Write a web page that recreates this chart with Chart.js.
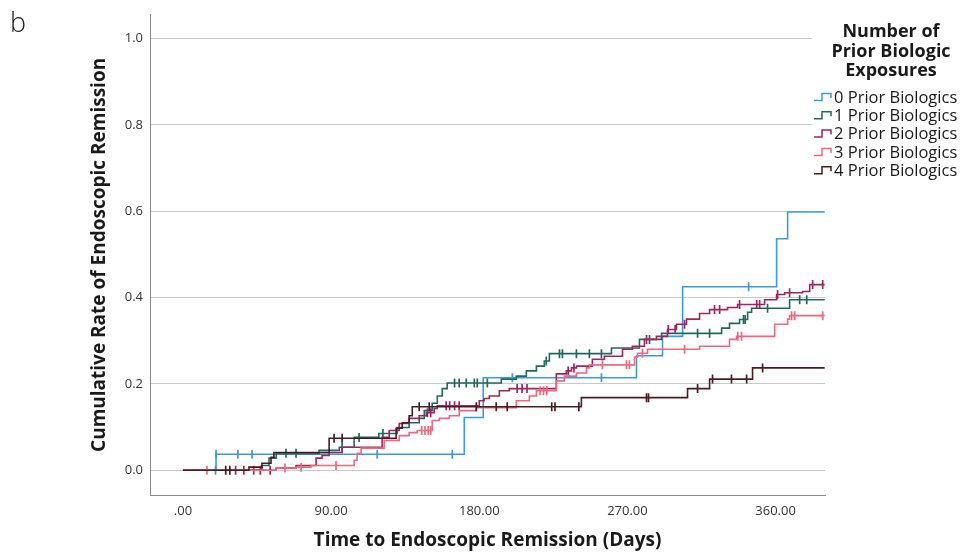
<!DOCTYPE html>
<html>
<head>
<meta charset="utf-8">
<script src="https://cdn.jsdelivr.net/npm/chart.js@4.4.1/dist/chart.umd.min.js"></script>
<style>
  html, body { margin: 0; padding: 0; background: #ffffff; }
  #wrap { width: 972px; height: 555px; position: relative; }
</style>
</head>
<body>
<div id="wrap"><canvas id="c" width="972" height="555"></canvas></div>
<script>
// ---------- DATA ----------
const groups = ['0 Prior Biologics', '1 Prior Biologics', '2 Prior Biologics', '3 Prior Biologics', '4 Prior Biologics'];
const legendTitle = ['Number of', 'Prior Biologic', 'Exposures'];
const xTickValues = [0, 90, 180, 270, 360];
const xTickLabels = ['.00', '90.00', '180.00', '270.00', '360.00'];
const yTickValues = [0, 0.2, 0.4, 0.6, 0.8, 1.0];
const yTickLabels = ['0.0', '0.2', '0.4', '0.6', '0.8', '1.0'];

// step times (days) and cumulative rate after each time
const times0 = [0, 20.1, 170.9, 182.4, 275.5, 291.3, 303.5, 360.6, 367.3, 389.8];
const rates0 = [0, 0.037, 0.122, 0.214, 0.265, 0.31, 0.425, 0.536, 0.598, 0.598];
const censor0 = [19.8, 20.1, 33.4, 42.0, 118.0, 163.6, 200.1, 254.2, 343.6];

const times1 = [0, 48.0, 52.3, 56.6, 82.7, 95.0, 104.0, 119.0, 130.1, 137.4, 143.5, 146.6, 151.4, 154.5, 157.5, 160.5, 193.4, 202.5, 208.6, 214.7, 219.5, 222.6, 260.3, 277.3, 290.7, 327.2, 332.0, 338.1, 343.0, 345.4, 368.5, 389.8];
const rates1 = [0, 0.011, 0.028, 0.039, 0.046, 0.053, 0.076, 0.085, 0.099, 0.11, 0.12, 0.138, 0.155, 0.172, 0.189, 0.202, 0.211, 0.218, 0.23, 0.241, 0.253, 0.27, 0.283, 0.303, 0.317, 0.329, 0.34, 0.349, 0.366, 0.375, 0.395, 0.395];
const censor1 = [62.6, 68.7, 96.7, 107.0, 121.5, 165.0, 167.8, 172.1, 177.0, 178.8, 184.9, 220.7, 228.7, 230.5, 239.0, 246.9, 254.2, 283.4, 312.6, 319.9, 340.5, 341.5, 355.1, 374.6, 378.9];

const times2 = [0, 56.6, 68.7, 80.9, 84.5, 88.8, 96.7, 121.0, 125.3, 131.4, 137.4, 143.5, 147.8, 152.6, 154.5, 180.0, 183.0, 186.1, 192.2, 198.2, 226.8, 232.9, 236.0, 239.0, 248.7, 256.0, 267.0, 273.0, 280.3, 287.6, 294.3, 299.8, 305.9, 313.8, 319.9, 330.8, 336.9, 353.3, 360.6, 365.5, 376.4, 380.7, 389.8];
const rates2 = [0, 0.005, 0.011, 0.028, 0.034, 0.041, 0.053, 0.076, 0.092, 0.108, 0.12, 0.126, 0.133, 0.143, 0.149, 0.161, 0.166, 0.172, 0.184, 0.189, 0.223, 0.23, 0.237, 0.241, 0.257, 0.264, 0.28, 0.287, 0.303, 0.31, 0.326, 0.338, 0.35, 0.363, 0.372, 0.377, 0.384, 0.395, 0.407, 0.411, 0.414, 0.43, 0.43];
const censor2 = [32.0, 37.0, 43.0, 47.0, 53.0, 148.5, 150.5, 159.9, 162.0, 165.0, 167.8, 203.0, 206.0, 209.0, 234.0, 237.5, 281.6, 294.8, 299.0, 304.7, 322.9, 326.0, 338.1, 348.5, 350.3, 361.2, 368.5, 382.5, 388.6];

const times3 = [0, 56.6, 68.7, 77.8, 104.0, 105.8, 108.2, 122.2, 131.4, 137.4, 142.3, 151.4, 155.7, 161.8, 167.8, 178.2, 202.5, 210.4, 214.7, 226.8, 231.7, 239.0, 245.1, 246.9, 274.3, 276.1, 282.2, 313.8, 332.0, 336.3, 359.4, 367.3, 368.5, 389.8];
const rates3 = [0, 0.005, 0.007, 0.011, 0.023, 0.039, 0.051, 0.069, 0.08, 0.087, 0.092, 0.115, 0.12, 0.126, 0.138, 0.145, 0.161, 0.172, 0.184, 0.207, 0.218, 0.225, 0.237, 0.244, 0.262, 0.271, 0.28, 0.287, 0.303, 0.31, 0.338, 0.35, 0.358, 0.358];
const censor3 = [14.6, 62.0, 71.8, 93.0, 145.0, 147.0, 149.0, 150.5, 217.0, 219.0, 221.0, 254.8, 269.4, 271.2, 279.1, 304.7, 337.0, 339.3, 369.7, 371.6, 388.6];

const times4 = [0, 40.1, 48.0, 53.5, 55.3, 88.8, 129.5, 133.2, 137.4, 139.3, 242.0, 306.5, 319.9, 346.0, 389.8];
const rates4 = [0, 0.007, 0.016, 0.03, 0.041, 0.074, 0.097, 0.11, 0.126, 0.147, 0.168, 0.189, 0.211, 0.237, 0.237];
const censor4 = [26.0, 28.5, 91.8, 96.7, 143.5, 149.6, 178.2, 190.3, 197.0, 224.0, 226.0, 240.5, 281.6, 282.8, 312.6, 321.7, 333.2, 342.4, 352.1];

const colors = ['#3b9bd8', '#1f6a5c', '#a02460', '#f0687e', '#4a1c22'];

// ---------- BUILD ----------
const allTimes = [times0, times1, times2, times3, times4];
const allRates = [rates0, rates1, rates2, rates3, rates4];
const allCensor = [censor0, censor1, censor2, censor3, censor4];

function stepValue(ts, rs, t) {
  let v = rs[0];
  for (let i = 0; i < ts.length; i++) { if (ts[i] <= t) v = rs[i]; else break; }
  return v;
}

const lineSets = groups.map((label, i) => ({
  type: 'line',
  label: label,
  data: allTimes[i].map((t, j) => ({ x: t, y: allRates[i][j] })),
  borderColor: colors[i],
  backgroundColor: colors[i],
  borderWidth: 1.6,
  stepped: true,
  pointRadius: 0,
  fill: false,
  order: 10 - i
}));
const censorSets = groups.map((label, i) => ({
  type: 'scatter',
  label: label + ' (censored)',
  data: allCensor[i].map(t => ({ x: t, y: stepValue(allTimes[i], allRates[i], t) })),
  borderColor: colors[i],
  backgroundColor: colors[i],
  pointStyle: 'line',
  rotation: 90,
  pointRadius: 4.5,
  borderWidth: 1.7,
  showLine: false,
  order: 10 - i
}));

const extrasPlugin = {
  id: 'extras',
  afterDraw(chart) {
    const ctx = chart.ctx;
    ctx.save();
    // panel letter
    ctx.fillStyle = '#222';
    ctx.font = '300 27px "Open Sans", sans-serif';
    ctx.textAlign = 'left';
    ctx.textBaseline = 'alphabetic';
    ctx.fillText('b', 10, 32);
    // legend
    ctx.fillStyle = '#ffffff';
    ctx.fillRect(812, 14, 160, 170);
    ctx.fillStyle = '#1a1a1a';
    ctx.font = 'bold 18px "Open Sans", sans-serif';
    ctx.textAlign = 'center';
    ctx.textBaseline = 'middle';
    legendTitle.forEach((t, i) => ctx.fillText(t, 891, 32 + i * 19.5));
    ctx.font = '16.5px "Open Sans", sans-serif';
    ctx.textAlign = 'left';
    groups.forEach((g, i) => {
      const y = 97 + i * 18.3;
      ctx.strokeStyle = colors[i];
      ctx.lineWidth = 1.5;
      ctx.beginPath();
      ctx.moveTo(814, y + 3.5);
      ctx.lineTo(822, y + 3.5);
      ctx.lineTo(822, y - 3.5);
      ctx.lineTo(831, y - 3.5);
      ctx.lineTo(831, y + 1);
      ctx.stroke();
      ctx.fillStyle = '#1a1a1a';
      ctx.fillText(g, 834, y + 1);
    });
    ctx.restore();
  }
};

Chart.defaults.font.family = '"Open Sans", sans-serif';

new Chart(document.getElementById('c'), {
  type: 'line',
  data: { datasets: [...lineSets, ...censorSets] },
  options: {
    responsive: false,
    animation: false,
    devicePixelRatio: 1,
    layout: { padding: { top: 11, right: 147, left: 0, bottom: 0 } },
    plugins: { legend: { display: false }, tooltip: { enabled: false }, title: { display: false } },
    scales: {
      x: {
        type: 'linear',
        min: -20,
        max: 390,
        afterBuildTicks: s => { s.ticks = xTickValues.map(v => ({ value: v })); },
        afterFit: s => { s.height = 60; },
        ticks: {
          color: '#333',
          font: { size: 13 },
          padding: 8,
          maxRotation: 0,
          autoSkip: false,
          callback: (v) => xTickLabels[xTickValues.indexOf(v)]
        },
        grid: { display: false, drawTicks: false },
        border: { display: true, color: '#8a8a8a', width: 1 },
        title: {
          display: true,
          text: 'Time to Endoscopic Remission (Days)',
          color: '#1a1a1a',
          font: { size: 19, weight: 'bold' },
          padding: { top: 0, bottom: 3 }
        }
      },
      y: {
        type: 'linear',
        min: -0.0575,
        max: 1.055,
        afterBuildTicks: s => { s.ticks = yTickValues.map(v => ({ value: v })); },
        afterFit: s => { s.width = 150; },
        ticks: {
          color: '#333',
          font: { size: 13 },
          padding: 7,
          autoSkip: false,
          callback: (v) => yTickLabels[yTickValues.findIndex(t => Math.abs(t - v) < 1e-6)]
        },
        grid: { color: '#c9c9c9', lineWidth: 1, drawTicks: false },
        border: { display: true, color: '#8a8a8a', width: 1 },
        title: {
          display: true,
          text: 'Cumulative Rate of Endoscopic Remission',
          color: '#1a1a1a',
          font: { size: 19, weight: 'bold' },
          padding: { top: 88, bottom: 0 }
        }
      }
    }
  },
  plugins: [extrasPlugin]
});
</script>
</body>
</html>
